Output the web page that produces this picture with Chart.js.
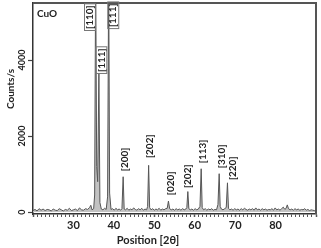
<!DOCTYPE html>
<html>
<head>
<meta charset="utf-8">
<script src="https://cdn.jsdelivr.net/npm/chart.js@4.4.1/dist/chart.umd.min.js"></script>
<style>
  html, body { margin: 0; padding: 0; background: #fff; }
  #wrap { width: 321px; height: 248px; }
</style>
</head>
<body>
<div id="wrap"><canvas id="xrd" width="321" height="248"></canvas></div>
<script>
// ---------- DATA ----------
const positions = [
  20, 20.5, 21, 21.5, 22, 22.5, 23, 23.5, 24, 24.5, 25, 25.5, 26, 26.5, 27, 27.5, 28, 28.5, 29, 29.5,
  30, 30.5, 31, 31.5, 32, 32.5, 33, 33.5, 34, 34.3, 34.6, 35.0, 35.25, 35.5, 35.75, 36.0, 36.3, 36.55, 36.9,
  37.3, 37.7, 38.1, 38.45, 38.72, 38.95, 39.3, 39.7, 40.1, 40.5, 40.9, 41.3, 41.7, 42.0, 42.3, 42.55, 42.9,
  43.3, 43.7, 44.1, 44.5, 44.9, 45.3, 45.7, 46.1, 46.5, 46.9, 47.3, 47.7, 48.1, 48.35, 48.6, 48.85, 49.2,
  49.6, 50.0, 50.4, 50.8, 51.2, 51.6, 52.0, 52.4, 52.8, 53.2, 53.5, 53.8, 54.2, 54.6, 55.0, 55.4, 55.8,
  56.2, 56.6, 57.0, 57.4, 57.8, 58.05, 58.3, 58.55, 58.9, 59.3, 59.7, 60.1, 60.5, 60.9, 61.3, 61.6, 61.85,
  62.2, 62.6, 63.0, 63.4, 63.8, 64.2, 64.6, 65.0, 65.4, 65.75, 66.05, 66.3, 66.6, 67.0, 67.4, 67.8, 68.1,
  68.35, 68.7, 69.1, 69.5, 69.9, 70.3, 70.7, 71.1, 71.5, 71.9, 72.3, 72.7, 73.1, 73.5, 73.9, 74.3, 74.7,
  75.1, 75.5, 75.9, 76.3, 76.7, 77.1, 77.5, 77.9, 78.3, 78.7, 79.1, 79.5, 79.9, 80.3, 80.7, 81.1, 81.5,
  81.9, 82.3, 82.6, 82.9, 83.2, 83.6, 84.0, 84.4, 84.8, 85.2, 85.6, 86.0, 86.4, 86.8, 87.2, 87.6, 88.0,
  88.4, 88.8, 89.2, 89.6, 90
];
const counts = [
  40, 70, 30, 90, 50, 80, 40, 70, 60, 30, 80, 50, 40, 90, 60, 30, 70, 50, 100, 40,
  60, 80, 40, 110, 60, 50, 90, 70, 120, 180, 60, 90, 450, 6300, 1200, 800, 3650, 250, 80,
  60, 100, 70, 400, 6300, 500, 70, 90, 50, 100, 60, 80, 50, 90, 930, 80, 60,
  100, 50, 80, 60, 110, 70, 50, 90, 60, 100, 50, 80, 60, 150, 1230, 120, 60,
  90, 50, 80, 60, 100, 50, 80, 60, 90, 100, 290, 90, 60, 80, 50, 90, 60,
  80, 50, 90, 60, 80, 120, 540, 90, 60, 80, 50, 90, 60, 80, 150, 1140, 120,
  60, 90, 50, 80, 60, 90, 50, 70, 60, 200, 1010, 150, 80, 60, 90, 120, 770,
  100, 60, 80, 50, 90, 60, 80, 50, 90, 60, 100, 70, 50, 80, 60, 90, 50,
  110, 60, 80, 50, 90, 60, 80, 50, 70, 60, 90, 50, 110, 60, 80, 50, 90,
  130, 70, 100, 190, 90, 60, 80, 50, 90, 60, 80, 50, 70, 60, 90, 50, 70,
  40, 60, 50, 40, 50
];

// peak labels: text, anchor position (2θ), lower end of label (counts), framed or not
const peakLabels = ["[110]", "[111]", "[111]", "[200]", "[202]", "[020]", "[202]", "[113]", "[310]", "[220]"];
const labelPos   = [34.1, 36.9, 39.85, 42.6, 48.8, 54.2, 58.3, 61.9, 66.65, 69.4];
const labelBase  = [4790, 3660, 4840, 1050, 1395, 420, 605, 1260, 1130, 815];
const labelBoxed = [true, true, true, false, false, false, false, false, false, false];

const yTickValues = [0, 2000, 4000];
const xLabelValues = [30, 40, 50, 60, 70, 80];

const sampleName = "CuO";
const xTitle = "Position [2θ]";
const yTitle = "Counts/s";

// ---------- STYLE ----------
const FONT = "Lato, 'Open Sans', sans-serif";
const INK = "#222";

// ---------- PLUGINS ----------
const decorations = {
  id: "decorations",
  afterDraw(chart) {
    const { ctx, chartArea: a, scales } = chart;
    const xs = scales.x, ys = scales.y;
    ctx.save();

    // top / right frame
    ctx.strokeStyle = "#555";
    ctx.lineWidth = 2;
    ctx.beginPath();
    ctx.moveTo(a.left, a.top);
    ctx.lineTo(a.right, a.top);
    ctx.lineTo(a.right, a.bottom);
    ctx.stroke();

    // rotated y tick labels
    ctx.fillStyle = INK;
    ctx.font = "bold 9px " + FONT;
    ctx.textAlign = "center";
    ctx.textBaseline = "middle";
    ys.ticks.forEach(t => {
      const py = ys.getPixelForValue(t.value);
      ctx.save();
      ctx.translate(a.left - 11, py);
      ctx.rotate(-Math.PI / 2);
      ctx.fillText(String(t.value), 0, 0);
      ctx.restore();
    });

    // axis titles
    ctx.font = "bold 10px " + FONT;
    ctx.save();
    ctx.translate(11, 89);
    ctx.rotate(-Math.PI / 2);
    ctx.fillText(yTitle, 0, 0);
    ctx.restore();
    ctx.font = "bold 11px " + FONT;
    ctx.fillText(xTitle, 148, 240);

    // sample name
    ctx.font = "bold 10px " + FONT;
    ctx.textAlign = "left";
    ctx.fillText(sampleName, a.left + 4, 14);

    // peak labels
    ctx.font = "bold 10px " + FONT;
    peakLabels.forEach((txt, i) => {
      const px = xs.getPixelForValue(labelPos[i]);
      const py = ys.getPixelForValue(labelBase[i]);
      const w = ctx.measureText(txt).width;
      ctx.save();
      ctx.translate(px, py);
      ctx.rotate(-Math.PI / 2);
      ctx.textAlign = "left";
      ctx.textBaseline = "middle";
      ctx.fillStyle = INK;
      ctx.fillText(txt, 1, 0);
      if (labelBoxed[i]) {
        ctx.strokeStyle = "#777";
        ctx.lineWidth = 1;
        ctx.strokeRect(-0.5, -5.5, w + 3, 11);
      }
      ctx.restore();
    });

    ctx.restore();
  }
};

// ---------- CHART ----------
const points = positions.map((p, i) => ({ x: p, y: counts[i] }));

new Chart(document.getElementById("xrd"), {
  type: "line",
  data: {
    datasets: [{
      data: points,
      borderColor: "#555",
      backgroundColor: "#c2c2c2",
      borderWidth: 1,
      pointRadius: 0,
      tension: 0,
      fill: "origin"
    }]
  },
  options: {
    responsive: false,
    animation: false,
    devicePixelRatio: 1,
    layout: { padding: { top: 3, right: 5, left: 0, bottom: 0 } },
    plugins: { legend: { display: false }, tooltip: { enabled: false } },
    scales: {
      x: {
        type: "linear",
        min: 20,
        max: 90,
        afterFit: s => { s.height = 34; },
        ticks: {
          stepSize: 1,
          autoSkip: false,
          maxRotation: 0,
          padding: 2,
          color: INK,
          font: { family: FONT, size: 11, weight: "bold" },
          callback: v => xLabelValues.includes(v) ? String(v) : ""
        },
        grid: {
          drawOnChartArea: false,
          tickLength: 3,
          tickColor: "#555",
          tickWidth: ctx => (ctx.tick && ctx.tick.value % 10 === 0 ? 1.5 : 1)
        },
        border: { display: true, color: "#333", width: 1.5 }
      },
      y: {
        min: -50,
        max: 5500,
        afterFit: s => { s.width = 33; },
        afterBuildTicks: s => { s.ticks = yTickValues.map(v => ({ value: v })); },
        ticks: { display: false },
        grid: { drawOnChartArea: false, tickLength: 5, tickColor: "#444", tickWidth: 1.2 },
        border: { display: true, color: "#333", width: 1.5 }
      }
    }
  },
  plugins: [decorations]
});
</script>
</body>
</html>
